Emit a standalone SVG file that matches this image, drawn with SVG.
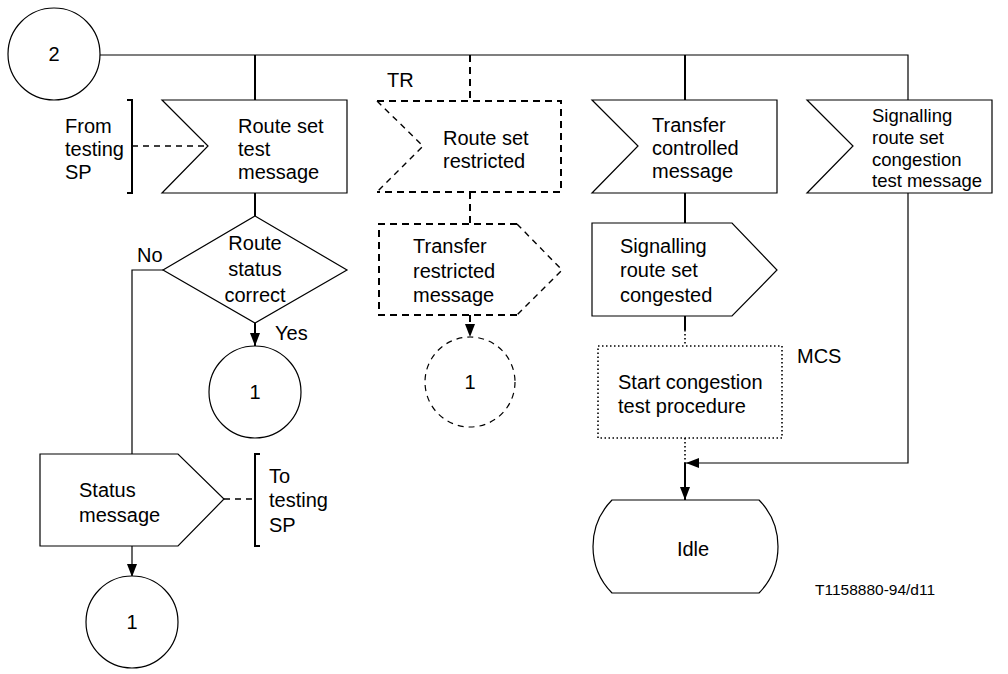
<svg xmlns="http://www.w3.org/2000/svg" width="1008" height="674" viewBox="0 0 1008 674">
<style>
text{font-family:"Liberation Sans",Arial,sans-serif;font-size:20px;fill:#000}
.sh{fill:#fff;stroke:#000;stroke-width:1.2}
.ln{fill:none;stroke:#000;stroke-width:1.2}
.th{fill:none;stroke:#000;stroke-width:2}
.dk{fill:none;stroke:#000;stroke-width:2;stroke-dasharray:7,5}
.dt{fill:none;stroke:#000;stroke-width:1.4;stroke-dasharray:6,5}
.dot{fill:none;stroke:#000;stroke-width:1.6;stroke-dasharray:1.5,2.5}
.c{text-anchor:middle}
</style>
<defs>
<marker id="ah" markerUnits="userSpaceOnUse" markerWidth="13" markerHeight="13" viewBox="0 0 13 13" refX="13" refY="6.5" orient="auto">
<path d="M0,1.5 L13,6.5 L0,11.5 Z" fill="#000"/>
</marker>
</defs>
<g id="connectors">
<path class="ln" d="M100,55 H908 V100"/>
<path class="th" d="M255,55 V100"/>
<path class="dk" d="M470,55 V101"/>
<path class="th" d="M685,55 V100"/>
<path class="dt" d="M132,146 H208"/>
<path class="th" d="M255,193 V216"/>
<path class="th" d="M255,323 V346" marker-end="url(#ah)"/>
<path class="ln" d="M163,270 H132 V454"/>
<path class="dk" d="M470,192 V224"/>
<path class="dk" d="M470,315 V337" marker-end="url(#ah)"/>
<path class="th" d="M685,193 V223"/>
<path class="th" d="M685,316 V330"/>
<path class="dot" d="M685,330 V346"/>
<path class="dot" d="M685,438 V463"/>
<path class="th" d="M685,463 V500" marker-end="url(#ah)"/>
<path class="ln" d="M908,193 V463 H686" marker-end="url(#ah)"/>
<path class="dt" d="M224,499 H255"/>
<path class="ln" d="M132,546 V577" marker-end="url(#ah)"/>
</g>
<g id="start2">
<circle class="sh" cx="54" cy="54" r="46"/>
<text class="c" x="54" y="61">2</text>
</g>
<g id="from-testing-sp">
<path class="th" d="M127,100 H132 V193 H127"/>
<text x="65" y="133">From</text>
<text x="65" y="156">testing</text>
<text x="65" y="179">SP</text>
</g>
<g id="route-set-test">
<polygon class="sh" points="162,100 347,100 347,193 162,193 208,146"/>
<text x="238" y="133">Route set</text>
<text x="238" y="156">test</text>
<text x="238" y="179">message</text>
</g>
<g id="route-set-restricted">
<path class="dk" d="M377,101 H561 V192 H377"/>
<path class="dt" d="M377,101 L423,146 L377,192"/>
<text x="387" y="87">TR</text>
<text x="443" y="145">Route set</text>
<text x="443" y="168">restricted</text>
</g>
<g id="transfer-controlled">
<polygon class="sh" points="592,100 777,100 777,193 592,193 638,146"/>
<text x="652" y="132">Transfer</text>
<text x="652" y="155">controlled</text>
<text x="652" y="178">message</text>
</g>
<g id="srs-congestion-test">
<polygon class="sh" points="807,100 992,100 992,193 807,193 853,146"/>
<text x="872" y="122" style="font-size:18.5px">Signalling</text>
<text x="872" y="144" style="font-size:18.5px">route set</text>
<text x="872" y="166" style="font-size:18.5px">congestion</text>
<text x="872" y="187" style="font-size:18.5px">test message</text>
</g>
<g id="route-status-correct">
<polygon class="sh" points="255,216 347,270 255,323 163,270"/>
<text class="c" x="255" y="250">Route</text>
<text class="c" x="255" y="276">status</text>
<text class="c" x="255" y="302">correct</text>
<text x="137" y="262">No</text>
<text x="275" y="340">Yes</text>
</g>
<g id="connector-1-yes">
<circle class="sh" cx="255" cy="392" r="46"/>
<text class="c" x="255" y="399">1</text>
</g>
<g id="transfer-restricted">
<path class="dk" d="M517,224 H379 V315 H517"/>
<path class="dt" d="M517,224 L562,270 L517,315"/>
<text x="413" y="253">Transfer</text>
<text x="413" y="278">restricted</text>
<text x="413" y="302">message</text>
</g>
<g id="connector-1-restricted">
<circle cx="470" cy="382" r="45" fill="#fff" stroke="#000" stroke-width="1.2" stroke-dasharray="6,5"/>
<text class="c" x="470" y="389">1</text>
</g>
<g id="srs-congested">
<polygon class="sh" points="592,223 732,223 777,270 732,316 592,316"/>
<text x="620" y="253">Signalling</text>
<text x="620" y="277">route set</text>
<text x="620" y="302">congested</text>
</g>
<g id="start-congestion-test">
<rect class="dot" x="598" y="346" width="184" height="92"/>
<text x="618" y="389">Start congestion</text>
<text x="618" y="413">test procedure</text>
<text x="797" y="363">MCS</text>
</g>
<g id="idle">
<path class="sh" d="M612,500 H759 A66.4,66.4 0 0 1 759,593 H612 A66.4,66.4 0 0 1 612,500 Z"/>
<text class="c" x="693" y="556">Idle</text>
</g>
<g id="status-message">
<polygon class="sh" points="40,454 178,454 224,499 178,546 40,546"/>
<text x="79" y="497">Status</text>
<text x="79" y="522">message</text>
</g>
<g id="to-testing-sp">
<path class="th" d="M260,454 H255 V546 H260"/>
<text x="269" y="483">To</text>
<text x="269" y="507">testing</text>
<text x="269" y="532">SP</text>
</g>
<g id="connector-1-status">
<circle class="sh" cx="132" cy="622" r="46"/>
<text class="c" x="132" y="629">1</text>
</g>
<text x="815" y="595" style="font-size:15.5px">T1158880-94/d11</text>
</svg>
